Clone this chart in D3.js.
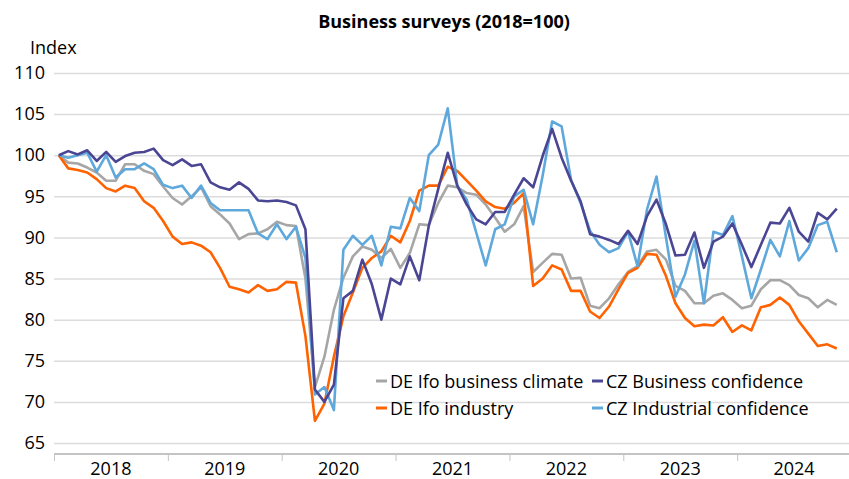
<!DOCTYPE html>
<html>
<head>
<meta charset="utf-8">
<script src="https://cdn.jsdelivr.net/npm/d3@7"></script>
<style>
  html, body { margin: 0; padding: 0; background: #fff; }
  svg { display: block; }
  text { font-family: "Open Sans", Roboto, sans-serif; fill: #000; }
</style>
</head>
<body>
<svg id="chart" width="849" height="479"></svg>
<script>
const years = ["2018", "2019", "2020", "2021", "2022", "2023", "2024"];
const yTicks = [65, 70, 75, 80, 85, 90, 95, 100, 105, 110];

const deIfoClimate = [100, 99.1, 99.0, 98.5, 97.9, 96.9, 96.9, 98.9, 98.9, 98.1, 97.7, 96.2, 94.8, 94.0,
  95.0, 96.1, 93.8, 92.8, 91.7, 89.8, 90.4, 90.5, 91.0, 91.9, 91.5, 91.4,
  85.0, 71.8, 75.5, 81.2, 85.1, 87.7, 88.9, 88.5, 87.5, 88.6, 86.3, 88.1, 91.6, 91.5,
  94.2, 96.3, 96.1, 95.4, 95.2, 94.0, 92.4, 90.7, 91.6, 93.8, 85.8, 86.9, 88.0, 87.9, 85.0,
  85.1, 81.7, 81.4, 82.6, 84.3, 85.8, 86.5, 88.3, 88.5, 87.3, 84.1, 83.5, 82.0, 82.0,
  82.9, 83.2, 82.4, 81.4, 81.7, 83.7, 84.8, 84.8, 84.2, 83.0, 82.6, 81.5, 82.4, 81.8];

const deIfoIndustry = [100, 98.4, 98.2, 97.9, 97.1, 96.0, 95.6, 96.3, 96.0, 94.4, 93.6, 92.0, 90.1, 89.2,
  89.4, 89.0, 88.2, 86.3, 84.0, 83.7, 83.3, 84.2, 83.5, 83.7, 84.6, 84.5,
  78.0, 67.7, 69.8, 75.5, 80.4, 83.3, 86.3, 87.5, 88.3, 90.2, 89.4, 92.0, 95.7, 96.3,
  96.3, 98.6, 98.1, 96.9, 95.7, 94.4, 93.7, 93.5, 94.2, 95.4, 84.1, 85.0, 86.6, 86.1, 83.5,
  83.5, 81.0, 80.2, 81.6, 83.7, 85.7, 86.3, 88.0, 87.9, 85.3, 82.0, 80.2, 79.2, 79.4,
  79.3, 80.3, 78.5, 79.3, 78.7, 81.5, 81.8, 82.7, 81.8, 79.8, 78.3, 76.8, 77.0, 76.5];

const czBusiness = [100, 100.5, 100.1, 100.6, 99.3, 100.4, 99.2, 99.9, 100.3, 100.4, 100.8, 99.4, 98.8, 99.5,
  98.7, 98.9, 96.7, 96.1, 95.8, 96.7, 95.9, 94.5, 94.4, 94.5, 94.3, 93.9,
  91.0, 71.5, 70.0, 72.1, 82.6, 83.5, 87.3, 84.3, 80.0, 85.0, 84.3, 87.7, 84.8, 91.4,
  95.9, 100.3, 96.3, 94.0, 92.2, 91.6, 93.1, 93.1, 95.2, 97.2, 96.1, 99.9, 103.2, 99.7, 96.9,
  94.4, 90.4, 90.1, 89.7, 89.2, 90.8, 89.2, 92.6, 94.6, 91.6, 87.8, 87.9, 90.6, 86.3,
  89.5, 90.1, 91.7, 89.1, 86.4, 89.1, 91.8, 91.7, 93.6, 90.7, 89.5, 93.0, 92.2, 93.5];

const czIndustrial = [100, 99.7, 100.0, 100.3, 98.0, 100.0, 97.3, 98.3, 98.3, 99.0, 98.3, 96.4, 96.0, 96.3,
  94.8, 96.3, 94.2, 93.3, 93.3, 93.3, 93.3, 90.5, 89.8, 91.6, 89.8, 91.3,
  87.5, 70.9, 71.8, 69.0, 88.5, 90.2, 89.1, 90.2, 86.6, 91.3, 91.1, 94.8, 93.2, 100.0,
  101.3, 105.7, 96.3, 94.6, 90.6, 86.6, 91.0, 91.6, 95.0, 95.8, 91.6, 97.5, 104.1, 103.5, 97.0,
  94.2, 90.8, 89.1, 88.2, 88.7, 90.7, 86.5, 93.4, 97.4, 90.0, 82.8, 85.5, 89.6, 82.0,
  90.7, 90.3, 92.6, 87.7, 82.6, 86.1, 89.7, 87.7, 92.0, 87.2, 88.7, 91.5, 91.9, 88.2];

const seriesNames = ["DE Ifo business climate", "CZ Business confidence", "DE Ifo industry", "CZ Industrial confidence"];
const seriesColors = ["#a6a6a6", "#4b4694", "#ff6200", "#5ea8dc"];
const seriesData = [deIfoClimate, czBusiness, deIfoIndustry, czIndustrial];

const svg = d3.select("#chart");
const plotLeft = 54, plotRight = 851, plotTop = 73, plotBottom = 443, axisY = 454;
const nMonths = years.length * 12;

const x = d3.scaleLinear().domain([0, nMonths]).range([plotLeft, plotRight]);
const y = d3.scaleLinear().domain([65, 110]).range([plotBottom, plotTop]);

// Title
svg.append("text").attr("x", 444).attr("y", 28).attr("text-anchor", "middle")
  .style("font-size", "18px").style("font-weight", "bold").text("Business surveys (2018=100)");
svg.append("text").attr("x", 30).attr("y", 54).style("font-size", "18px").text("Index");

// Y gridlines + labels
const yAxis = d3.axisLeft(y).tickValues(yTicks).tickSize(-(849 - plotLeft)).tickPadding(9).tickFormat(d3.format("d"));
const gy = svg.append("g").attr("transform", `translate(${plotLeft},0)`).call(yAxis);
gy.select(".domain").remove();
gy.selectAll(".tick line").attr("stroke", "#dcdcdc").attr("stroke-width", 1.5);
gy.selectAll(".tick text").style("font-size", "18px").attr("fill", "#000");

// X axis
const xAxis = d3.axisBottom(x).tickValues(d3.range(0, nMonths + 1, 12)).tickSize(7).tickFormat("");
const gx = svg.append("g").attr("transform", `translate(0,${axisY})`).call(xAxis);
gx.select(".domain").attr("stroke", "#c4c4c4").attr("stroke-width", 2).attr("d", `M${plotLeft},0H849`);
gx.selectAll(".tick line").attr("stroke", "#c4c4c4").attr("stroke-width", 1);
svg.append("g").selectAll("text").data(years).join("text")
  .attr("x", (d, i) => x(i * 12 + 6)).attr("y", 475).attr("text-anchor", "middle")
  .style("font-size", "18px").text(d => d);

// Lines
const line = d3.line().x((d, i) => x(i + 0.5)).y(d => y(d));
const drawOrder = [0, 2, 3, 1];
drawOrder.forEach(k => {
  svg.append("path").datum(seriesData[k]).attr("fill", "none")
    .attr("stroke", seriesColors[k]).attr("stroke-width", 2.6)
    .attr("stroke-linejoin", "round").attr("d", line);
});

// Legend
const legendPos = [[376, 381], [592, 381], [376, 408], [592, 408]];
seriesNames.forEach((name, k) => {
  const [lx, ly] = legendPos[k];
  const g = svg.append("g").attr("transform", `translate(${lx},${ly})`);
  g.append("line").attr("x1", 0).attr("x2", 11).attr("y1", 0).attr("y2", 0)
    .attr("stroke", seriesColors[k]).attr("stroke-width", 3);
  g.append("text").attr("x", 14).attr("y", 6.5).style("font-size", "18px").text(name);
});
</script>
</body>
</html>
